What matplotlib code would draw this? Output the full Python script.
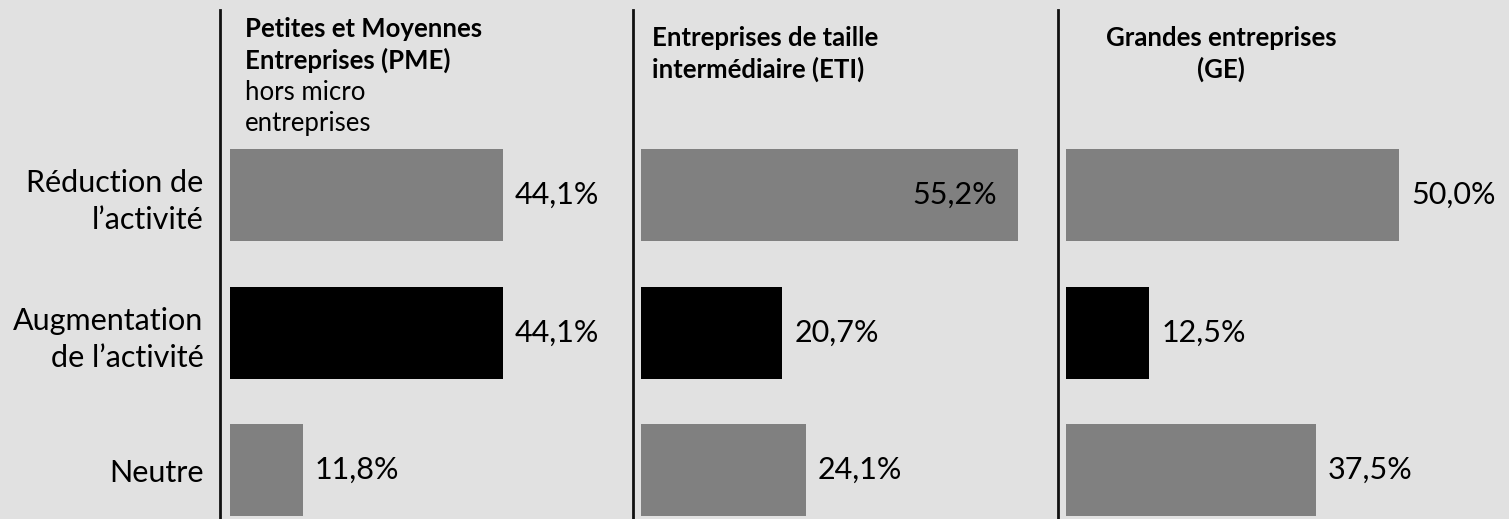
"""Répartition de l'impact par taille d'entreprise : barres horizontales en trois panneaux."""
import matplotlib
matplotlib.use("Agg")
import matplotlib.pyplot as plt

categories = ["Réduction de\nl’activité", "Augmentation\nde l’activité", "Neutre"]
pme = [44.1, 44.1, 11.8]
eti = [55.2, 20.7, 24.1]
ge = [50.0, 12.5, 37.5]
titles_bold = ["Petites et Moyennes\nEntreprises (PME)",
               "Entreprises de taille\nintermédiaire (ETI)",
               "Grandes entreprises\n(GE)"]
title_sub = "hors micro\nentreprises"

BG = "#e1e1e1"
GREY = "#808080"
colors = [GREY, "#000000", GREY]
plt.rcParams["font.family"] = ["Lato", "DejaVu Sans"]

W, H = 1509, 519
fig = plt.figure(figsize=(W / 100, H / 100), dpi=100, facecolor=BG)

# panel geometry in pixels: left spine, right edge, bar start, px per %
panels = [
    (pme, 220, 633, 230, 6.19),
    (eti, 633, 1058, 641, 6.83),
    (ge, 1058, 1509, 1066, 6.66),
]
top_px, bot_px = 10, 519
c0, step = 195, 137.5   # centre of first bar, spacing (px)
FS = 22
TFS = 18.5

axes = []
for vals, x0, x1, xb, scale in panels:
    ax = fig.add_axes([x0 / W, 1 - bot_px / H, (x1 - x0) / W, (bot_px - top_px) / H])
    ax.set_facecolor("none")
    xmin = -(xb - x0) / scale
    xmax = xmin + (x1 - x0) / scale
    ax.set_xlim(xmin, xmax)
    ax.set_ylim((bot_px - c0) / step, (top_px - c0) / step)
    pos = list(range(len(vals)))
    ax.barh(pos, vals, height=92 / step, color=colors, left=0)
    for y, v in zip(pos, vals):
        txt = f"{v:.1f}%".replace(".", ",")
        if v > 0.85 * xmax:
            ax.text(v - 21 / scale, y, txt, ha="right", va="center", fontsize=FS)
        else:
            ax.text(v + 12 / scale, y, txt, ha="left", va="center", fontsize=FS)
    for s in ["top", "right", "bottom"]:
        ax.spines[s].set_visible(False)
    ax.spines["left"].set_linewidth(2)
    ax.spines["left"].set_color("#111111")
    ax.set_xticks([])
    ax.set_yticks(pos)
    ax.set_yticklabels([])
    ax.tick_params(axis="y", length=0)
    axes.append(ax)

axes[0].set_yticklabels(categories, fontsize=FS, linespacing=1.38)
axes[0].tick_params(axis="y", pad=12)

# panel titles
fig.text(245 / W, 1 - 17 / H, titles_bold[0], ha="left", va="top",
         fontsize=TFS, fontweight="bold", linespacing=1.3)
fig.text(245 / W, 1 - 80 / H, title_sub, ha="left", va="top",
         fontsize=TFS, linespacing=1.3)
fig.text(652 / W, 1 - 26 / H, titles_bold[1], ha="left", va="top",
         fontsize=TFS, fontweight="bold", linespacing=1.3)
fig.text(1221 / W, 1 - 26 / H, titles_bold[2], ha="center", va="top",
         fontsize=TFS, fontweight="bold", linespacing=1.3, multialignment="center")

fig.savefig("out.png", dpi=100, facecolor=BG)
